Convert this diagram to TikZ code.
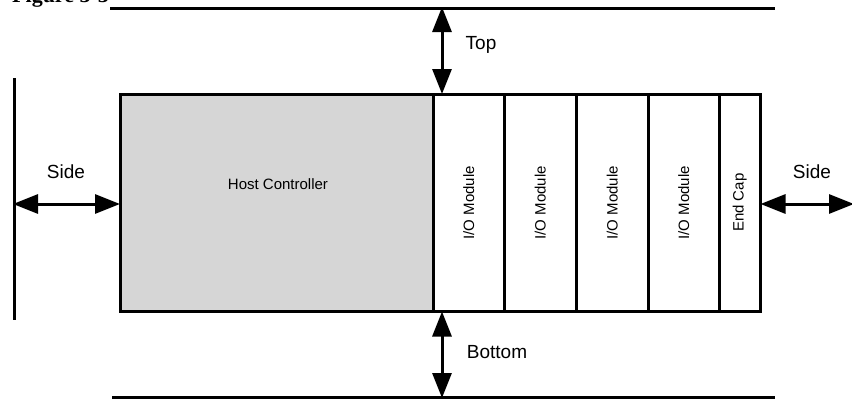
\documentclass[tikz,border=0pt]{standalone}
\usepackage{fontspec}
\setmainfont{Liberation Sans}
\newfontfamily\figfont{Liberation Serif}
\usetikzlibrary{arrows.meta}
\tikzset{
  box/.style={draw=black, line width=2.5pt, minimum height=217pt, inner sep=0pt, anchor=north west},
  modtxt/.style={font=\fontsize{15}{15}\selectfont},
  lbl/.style={font=\fontsize{19}{20}\selectfont, inner sep=0pt},
  wall/.style={line width=3pt},
  gap/.style={line width=3pt, {Triangle[length=25pt,width=19pt]}-{Triangle[length=25pt,width=19pt]}, shorten <=-1pt, shorten >=-1pt},
}
\begin{document}
\begin{tikzpicture}[x=1pt,y=-1pt]
\useasboundingbox (0,0) rectangle (852,400);
\fill[white] (0,0) rectangle (852,400);
% cut-off caption
\node[anchor=base west, inner sep=0pt, font=\figfont\bfseries\fontsize{22}{22}\selectfont] (cap) at (12,2.5) {Figure 3-3};
% walls
\coordinate (tl) at (110,8); \coordinate (tr) at (775,8);
\coordinate (bl) at (112,397); \coordinate (br) at (775,397);
\coordinate (lt) at (14,78); \coordinate (lb) at (14,320);
\draw[wall] (tl) -- (tr);
\draw[wall] (bl) -- (br);
\draw[wall] (lt) -- (lb);
% boxes
\node[box, fill=black!16, minimum width=313pt] (hc) at (119,93) {};
\node[modtxt] (hct) at (278,184) {Host Controller};
\node[box, minimum width=71pt] (m1) at (432,93) {};
\node[box, minimum width=72pt] (m2) at (503,93) {};
\node[box, minimum width=72pt] (m3) at (575,93) {};
\node[box, minimum width=71pt] (m4) at (647,93) {};
\node[box, minimum width=41pt] (ec) at (718,93) {};
\node[modtxt, rotate=90] at (m1.center) {I/O Module};
\node[modtxt, rotate=90] at (m2.center) {I/O Module};
\node[modtxt, rotate=90] at (m3.center) {I/O Module};
\node[modtxt, rotate=90] at (m4.center) {I/O Module};
\node[modtxt, rotate=90] at (ec.center) {End Cap};
% arrows
\coordinate (ta) at (442,8);
\coordinate (ba) at (442,397);
\coordinate (la) at (14,204);
\coordinate (ra) at (853,204);
\draw[gap] (ta) -- (m1.north west -| ta);
\draw[gap] (m1.south west -| ba) -- (ba);
\draw[gap] (la) -- (hc.west |- la);
\draw[gap] (ec.east |- ra) -- (ra);
% labels
\node[lbl] (ttop) at (481,45) {Top};
\node[lbl] (tbot) at (497,352) {Bottom};
\node[lbl] (tls) at (66,172) {Side};
\node[lbl] (trs) at (812,172) {Side};
\end{tikzpicture}
\end{document}
